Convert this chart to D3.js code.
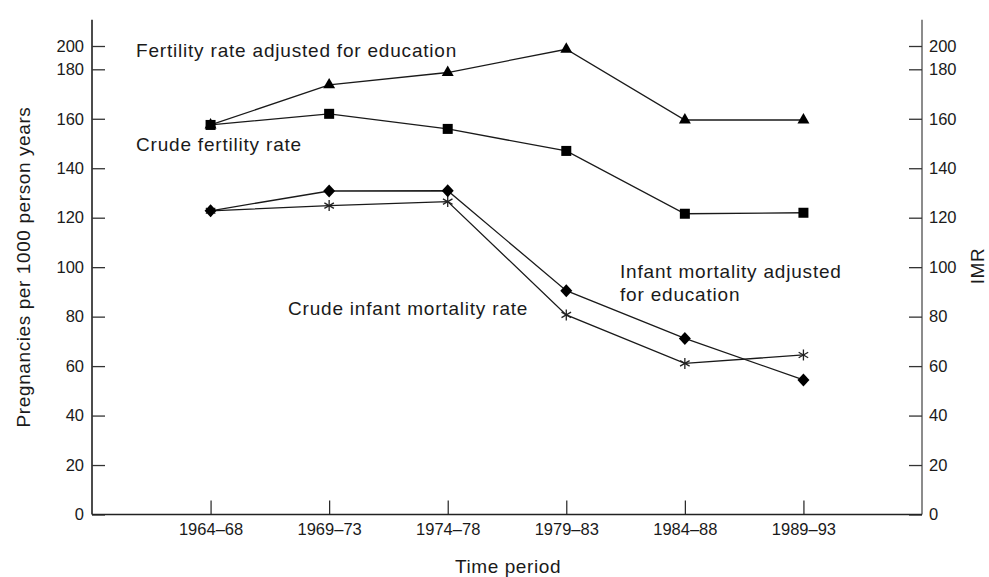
<!DOCTYPE html>
<html><head><meta charset="utf-8">
<script src="https://cdn.jsdelivr.net/npm/d3@7"></script>
<style>body{margin:0;background:#fff}svg{display:block}text{font-family:"Liberation Sans",Arial,sans-serif;fill:#1a1a1a}</style>
</head><body><svg id="c" width="989" height="577"></svg>
<script>
const periods = ["1964–68","1969–73","1974–78","1979–83","1984–88","1989–93"];
const fertilityAdjusted = [157.5,173.7,178.7,188.1,159.5,159.5];
const crudeFertility = [157.5,162,155.9,147,121.6,122];
const imrAdjusted = [122.8,130.8,130.9,90.5,71.2,54.4];
const crudeIMR = [122.8,124.9,126.5,80.7,61.1,64.5];
const yTicks = [0,20,40,60,80,100,120,140,160,180,200];

const svg = d3.select("#c");
const L = 92, R = 922;
const x = d3.scalePoint().domain(periods).range([L, R]).padding(1);
const y = d3.scaleLinear().domain([0,180]).range([514.5,69.3]);
// axis labelling scale: the printed "200" sits just above 180
const yAx = d3.scaleLinear().domain([0,180,200]).range([y(0), y(180), 46]);

// spines
svg.append("line").attr("x1",L).attr("x2",L).attr("y1",y(0)).attr("y2",y(200)).attr("stroke","#111").attr("stroke-width",1.5);
svg.append("line").attr("x1",R).attr("x2",R).attr("y1",y(0)).attr("y2",y(200)).attr("stroke","#666").attr("stroke-width",1.5);

const tfs = 16.5;
const gl = svg.append("g").attr("transform",`translate(${L},0)`)
  .call(d3.axisRight(yAx).tickValues(yTicks).tickSize(13).tickSizeOuter(0));
gl.select(".domain").remove();
gl.selectAll(".tick line").attr("stroke","#333").attr("stroke-width",1.3);
gl.selectAll(".tick text").attr("x",-8).attr("text-anchor","end").attr("font-size",tfs).attr("fill","#1a1a1a");

const gr = svg.append("g").attr("transform",`translate(${R},0)`)
  .call(d3.axisLeft(yAx).tickValues(yTicks).tickSize(13).tickSizeOuter(0));
gr.select(".domain").remove();
gr.selectAll(".tick line").attr("stroke","#333").attr("stroke-width",1.3);
gr.selectAll(".tick text").attr("x",7).attr("text-anchor","start").attr("font-size",tfs).attr("fill","#1a1a1a");

const gx = svg.append("g").attr("transform",`translate(0,${y(0)})`)
  .call(d3.axisTop(x).tickSize(14).tickSizeOuter(0));
gx.select(".domain").remove();
svg.append("line").attr("x1",L).attr("x2",R).attr("y1",y(0)).attr("y2",y(0)).attr("stroke","#222").attr("stroke-width",1.5);
gx.selectAll(".tick line").attr("stroke","#222").attr("stroke-width",1.2);
gx.selectAll(".tick text").attr("y",20.5).attr("dy","0").attr("font-size",tfs).attr("fill","#1a1a1a");

const line = d3.line().x((d,i)=>x(periods[i])).y(d=>y(d));
const series = [
  {v: crudeIMR, m:"star"},
  {v: imrAdjusted, m:"diamond"},
  {v: crudeFertility, m:"square"},
  {v: fertilityAdjusted, m:"triangle"}
];
series.forEach(s=>{
  svg.append("path").attr("d",line(s.v)).attr("fill","none").attr("stroke","#1a1a1a").attr("stroke-width",1.3);
});
series.forEach(s=>{
  const g = svg.append("g");
  s.v.forEach((d,i)=>{
    const cx = x(periods[i]), cy = y(d);
    if (s.m==="triangle") g.append("path").attr("d",d3.symbol(d3.symbolTriangle,62)()).attr("transform",`translate(${cx},${cy})`).attr("fill","#000");
    else if (s.m==="square") g.append("rect").attr("x",cx-5).attr("y",cy-5).attr("width",10).attr("height",10).attr("fill","#000");
    else if (s.m==="diamond") g.append("path").attr("d",`M0,-6.5L6,0L0,6.5L-6,0Z`).attr("transform",`translate(${cx},${cy})`).attr("fill","#000");
    else {
      const r = 5.5;
      [0,60,120].forEach(a=>{
        const t = a*Math.PI/180;
        g.append("line").attr("x1",cx+r*Math.sin(t)).attr("y1",cy-r*Math.cos(t)).attr("x2",cx-r*Math.sin(t)).attr("y2",cy+r*Math.cos(t)).attr("stroke","#222").attr("stroke-width",1.3);
      });
    }
  });
});

const fs = 19, ls = 0.8;
function label(xp, yp, t){ svg.append("text").attr("x",xp).attr("y",yp).attr("font-size",fs).attr("letter-spacing",ls).text(t); }
label(136,57,"Fertility rate adjusted for education");
label(136,151,"Crude fertility rate");
label(288,315,"Crude infant mortality rate");
label(620,278,"Infant mortality adjusted");
label(620,301,"for education");

svg.append("text").attr("transform","translate(30,267) rotate(-90)").attr("text-anchor","middle").attr("font-size",fs).attr("letter-spacing",0.6).text("Pregnancies per 1000 person years");
svg.append("text").attr("transform","translate(984,266) rotate(-90)").attr("text-anchor","middle").attr("font-size",fs).attr("letter-spacing",0.6).text("IMR");
svg.append("text").attr("x",508).attr("y",573).attr("text-anchor","middle").attr("font-size",fs).attr("letter-spacing",0.6).text("Time period");
</script></body></html>
